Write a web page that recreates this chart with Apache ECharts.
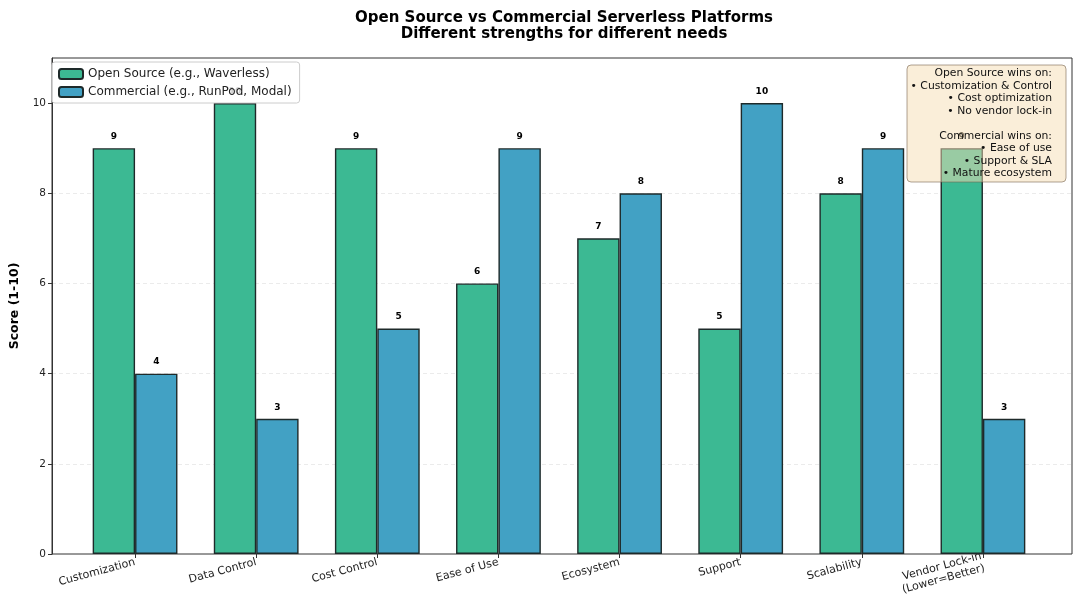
<!DOCTYPE html>
<html><head><meta charset="utf-8">
<script src="https://cdn.jsdelivr.net/npm/echarts@6/dist/echarts.min.js"></script>
<style>html,body{margin:0;padding:0;background:#fff}#c{width:1080px;height:614px}</style>
</head><body><div id="c"></div>
<script>
const categories = ['Customization','Data Control','Cost Control','Ease of Use','Ecosystem','Support','Scalability','Vendor Lock-in\n(Lower=Better)'];
const openSource = [9, 10, 9, 6, 7, 5, 8, 9];
const commercial = [4, 3, 5, 9, 8, 10, 9, 3];
const seriesNames = ['Open Source (e.g., Waverless)', 'Commercial (e.g., RunPod, Modal)'];
const yTicks = [0, 2, 4, 6, 8, 10];
const noteLines = ['Open Source wins on:', '• Customization & Control', '• Cost optimization', '• No vendor lock-in', '', 'Commercial wins on:', '• Ease of use', '• Support & SLA', '• Mature ecosystem'];

const F = 'DejaVu Sans';
const chart = echarts.init(document.getElementById('c'), null, {renderer:'canvas'});
const lbl = {show:true, position:'top', distance:7, fontFamily:F, fontSize:9, fontWeight:'bold', color:'#000'};
chart.setOption({
  animation:false,
  textStyle:{fontFamily:F},
  title:{text:'Open Source vs Commercial Serverless Platforms\nDifferent strengths for different needs',
    left:559, top:5, textAlign:'center',
    textStyle:{fontFamily:F, fontSize:15, fontWeight:'bold', color:'#000', lineHeight:16}},
  legend:{orient:'vertical', left:52, top:62, itemWidth:24, itemHeight:10, itemGap:6,
    padding:[6,8,5,6], backgroundColor:'rgba(255,255,255,0.8)', borderColor:'#ccc', borderWidth:1, borderRadius:3,
    textStyle:{fontFamily:F, fontSize:12, color:'#222'}, data:seriesNames},
  grid:[
    {left:46, right:8, top:58, bottom:60, show:true, borderColor:'#333', borderWidth:1, backgroundColor:'transparent'},
    {left:74.5, right:36.5, top:58, bottom:60}
  ],
  xAxis:[
    {gridIndex:0, type:'value', min:0, max:1, show:false},
    {gridIndex:1, type:'category', data:categories, boundaryGap:true,
     axisLine:{show:false}, axisTick:{show:true, alignWithLabel:true, length:4, lineStyle:{color:'#333'}},
     axisLabel:{rotate:15, interval:0, fontFamily:F, fontSize:11, color:'#222', margin:8, lineHeight:12.5}}
  ],
  yAxis:[
    {gridIndex:0, type:'value', min:0, max:11, interval:2,
     name:'Score (1-10)', nameLocation:'middle', nameGap:31, nameRotate:90,
     nameTextStyle:{fontFamily:F, fontSize:12.5, fontWeight:'bold', color:'#000'},
     axisLine:{show:true, lineStyle:{color:'#333'}},
     axisTick:{show:true, length:4, lineStyle:{color:'#333'}, customValues:yTicks},
     axisLabel:{fontFamily:F, fontSize:10.5, color:'#222', margin:6, customValues:yTicks},
     splitLine:{show:true, showMinLine:false, showMaxLine:false, lineStyle:{color:'#e6e6e6', type:[4,3], width:0.8}}},
    {gridIndex:1, type:'value', min:0, max:11, interval:2, show:false, splitLine:{show:false}}
  ],
  series:[
    {name:seriesNames[0], type:'bar', xAxisIndex:1, yAxisIndex:1, data:openSource, barWidth:'35%', barGap:'0%',
     itemStyle:{color:'#3cb993', borderColor:'#1e2a2a', borderWidth:1.4}, label:lbl, z:2},
    {name:seriesNames[1], type:'bar', xAxisIndex:1, yAxisIndex:1, data:commercial, barWidth:'35%', barGap:'0%',
     itemStyle:{color:'#42a1c4', borderColor:'#1e2a2a', borderWidth:1.4}, label:lbl, z:2}
  ],
  graphic:[
    {type:'rect', z:100, shape:{x:907, y:65, width:159, height:117, r:4},
     style:{fill:'rgba(245,222,179,0.5)', stroke:'rgba(120,100,80,0.6)', lineWidth:1}},
    {type:'text', z:101, x:1052, y:67,
     style:{text:noteLines.join('\n'), fontFamily:F, fontSize:10.8, lineHeight:12.5, align:'right', verticalAlign:'top', fill:'#111'}}
  ]
});
</script></body></html>
